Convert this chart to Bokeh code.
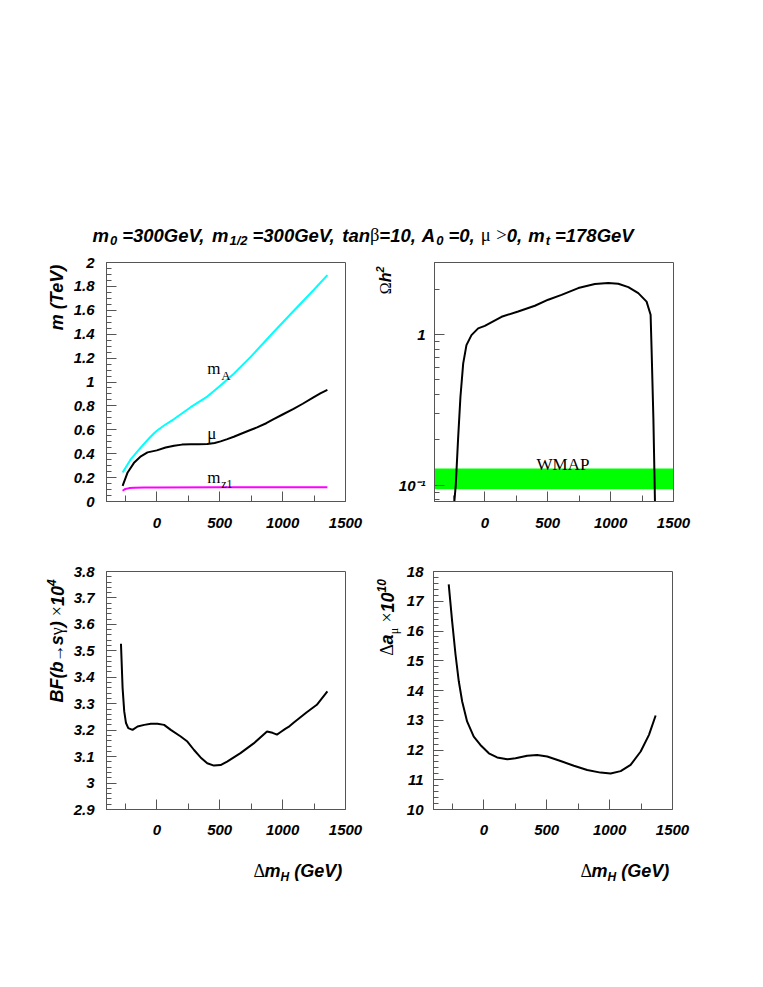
import math
from bokeh.plotting import figure
from bokeh.models import Range1d, FixedTicker, Label, BoxAnnotation
from bokeh.layouts import column, row
from bokeh.embed import file_html
from bokeh.resources import INLINE

# ---------------- data ----------------
# top-left: masses (TeV) vs Delta m_H (GeV)
ma_x = [-272, -206, -127, -61, -30, 0, 60, 137, 269, 401, 506, 612, 744, 929, 1087, 1245, 1356]
ma_y = [0.243, 0.355, 0.453, 0.529, 0.563, 0.592, 0.638, 0.69, 0.789, 0.878, 0.97, 1.069, 1.208, 1.418, 1.594, 1.768, 1.894]
mu_x = [-272, -232, -179, -127, -74, 0, 70, 137, 200, 269, 330, 401, 460, 507, 560, 612, 665, 744, 797, 870, 929, 1000, 1087, 1160, 1245, 1300, 1356]
mu_y = [0.131, 0.243, 0.327, 0.378, 0.411, 0.428, 0.452, 0.467, 0.476, 0.479, 0.479, 0.482, 0.49, 0.503, 0.522, 0.542, 0.565, 0.598, 0.62, 0.655, 0.69, 0.728, 0.775, 0.818, 0.871, 0.905, 0.934]
mz1_x = [-272, -250, -220, -180, -100, 0, 500, 1000, 1356]
mz1_y = [0.09, 0.105, 0.112, 0.115, 0.117, 0.118, 0.119, 0.12, 0.12]

# top-right: relic density
oh2_x = [-244, -231, -212, -194, -172, -146, -106, -53, 0, 133, 265, 398, 504, 610, 743, 875, 981, 1061, 1141, 1220, 1286, 1318, 1326, 1340, 1353]
oh2_y = [0.075, 0.1, 0.207, 0.383, 0.64, 0.85, 0.99, 1.097, 1.14, 1.31, 1.42, 1.55, 1.70, 1.83, 2.03, 2.16, 2.19, 2.17, 2.06, 1.88, 1.65, 1.35, 0.786, 0.28, 0.075]
wmap_lo = 0.094
wmap_hi = 0.129

# bottom-left: BF(b -> s gamma) x 1e4
bsg_x = [-285, -272, -259, -245, -227, -193, -153, -100, -47, 5, 58, 111, 190, 243, 296, 348, 401, 454, 507, 559, 665, 770, 876, 920, 955, 985, 1021, 1047, 1087, 1192, 1272, 1356]
bsg_y = [3.527, 3.359, 3.271, 3.227, 3.208, 3.201, 3.214, 3.220, 3.224, 3.224, 3.220, 3.201, 3.176, 3.157, 3.125, 3.097, 3.075, 3.066, 3.068, 3.081, 3.113, 3.150, 3.195, 3.190, 3.183, 3.193, 3.205, 3.212, 3.228, 3.268, 3.296, 3.347]

# bottom-right: Delta a_mu x 1e10
amu_x = [-279, -252, -225, -199, -172, -133, -80, -27, 40, 106, 186, 252, 345, 424, 504, 610, 716, 822, 928, 1008, 1088, 1167, 1247, 1313, 1366]
amu_y = [17.57, 16.33, 15.21, 14.31, 13.63, 12.96, 12.45, 12.17, 11.89, 11.75, 11.69, 11.72, 11.81, 11.83, 11.78, 11.63, 11.47, 11.33, 11.24, 11.21, 11.29, 11.50, 11.95, 12.51, 13.16]

# ticks
x_ticks = [0, 500, 1000, 1500]
x_minor = [-250, 250, 750, 1250]
m_ticks = [0, 0.2, 0.4, 0.6, 0.8, 1, 1.2, 1.4, 1.6, 1.8, 2]
m_labels = ["0", "0.2", "0.4", "0.6", "0.8", "1", "1.2", "1.4", "1.6", "1.8", "2"]
oh2_ticks = [0.1, 1]
oh2_labels = ["10\u207b\u00b9", "1"]
oh2_minor = [0.08, 0.09, 0.2, 0.3, 0.4, 0.5, 0.6, 0.7, 0.8, 0.9, 2, 3]
bsg_ticks = [2.9, 3.0, 3.1, 3.2, 3.3, 3.4, 3.5, 3.6, 3.7, 3.8]
bsg_labels = ["2.9", "3", "3.1", "3.2", "3.3", "3.4", "3.5", "3.6", "3.7", "3.8"]
amu_ticks = [10, 11, 12, 13, 14, 15, 16, 17, 18]
amu_labels = ["10", "11", "12", "13", "14", "15", "16", "17", "18"]

SANS = "Liberation Sans"
SERIF = "Liberation Serif"
BI = "bold italic"
NORM = "normal"
AXC = "#555555"
MID = 0.35  # distance (in em) from alphabetic baseline to the em-box middle

SANS_W = {' ': .278, '(': .333, ')': .333, ',': .278, '/': .278, '=': .584, '>': .584, '-': .333,
          '.': .278, 'A': .722, 'B': .722, 'F': .611, 'G': .778, 'H': .722, 'T': .611, 'V': .667,
          'a': .556, 'b': .611, 'e': .556, 'h': .611, 'm': .889, 'n': .611, 's': .556, 't': .333, 'z': .5}
SERIF_W = {'Ω': .768, 'Δ': .612, 'β': .5, 'μ': .576, 'γ': .45, '×': .564, '→': .9, '>': .564,
           ' ': .25, 'm': .778, 'A': .722, 'z': .444, '1': .5}


def text_w(s, font, size):
    tbl = SANS_W if font == SANS else SERIF_W
    return sum(tbl.get(c, .556) for c in s) * size


def lab(p, fl, fb, px, py, text, font=SANS, style=BI, size=18, rotated=False, align="left"):
    """Label whose alphabetic baseline passes through page position (px, py).
    (fl, fb) = page position of the target frame's left / bottom edge."""
    if rotated:
        cx, cy = px - MID * size, py
    else:
        cx, cy = px, py - MID * size
    p.add_layout(Label(x=cx - fl, y=fb - cy, x_units="screen", y_units="screen", text=text,
                       text_font=font, text_font_style=style, text_font_size=f"{size}px",
                       angle=math.pi / 2 if rotated else 0.0, text_align=align,
                       text_baseline="middle", text_color="black"))


def vseq(p, fl, fb, xb, ystart, pieces):
    """Rotated (bottom-to-top) text pieces: (text, font, style, size, dx, gap)."""
    y = ystart
    for text, font, style, size, dx, gap in pieces:
        y -= gap
        w = text_w(text, font, size)
        lab(p, fl, fb, xb + dx, y - w / 2, text, font, style, size, rotated=True, align="center")
        y -= w


def hseq(p, fl, fb, xstart, yb, pieces):
    """Horizontal text pieces: (text, font, style, size, dy, gap)."""
    x = xstart
    for text, font, style, size, dy, gap in pieces:
        x += gap
        lab(p, fl, fb, x, yb + dy, text, font, style, size)
        x += text_w(text, font, size)


def blank(w, h):
    b = figure(width=w, height=h, x_range=Range1d(0, 1), y_range=Range1d(0, 1),
               min_border=0, toolbar_location=None, output_backend="svg",
               x_axis_location=None, y_axis_location=None)
    b.outline_line_color = None
    b.grid.visible = False
    b.background_fill_color = "white"
    b.border_fill_color = "white"
    return b


def make_panel(yr, y_type, bl, br, bt, bb, fh, yt, ylab, ymin, y_standoff, x_standoff):
    p = figure(frame_width=239, frame_height=fh, x_range=Range1d(-400, 1500), y_range=yr,
               y_axis_type=y_type, output_backend="svg", toolbar_location=None,
               min_border_left=bl, min_border_right=br, min_border_top=bt, min_border_bottom=bb)
    p.grid.visible = False
    p.outline_line_color = AXC
    p.outline_line_width = 1
    p.background_fill_color = "white"
    p.border_fill_color = "white"
    xa = p.xaxis[0]
    xa.ticker = FixedTicker(ticks=x_ticks, minor_ticks=x_minor)
    xa.major_label_overrides = {t: str(t) for t in x_ticks}
    xa.major_tick_in = 10
    xa.major_tick_out = 0
    xa.minor_tick_in = 6
    xa.minor_tick_out = 0
    xa.major_label_standoff = x_standoff
    ya = p.yaxis[0]
    ya.ticker = FixedTicker(ticks=yt, minor_ticks=ymin)
    ya.major_label_overrides = dict(zip(yt, ylab))
    ya.major_tick_in = 10
    ya.major_tick_out = 0
    ya.minor_tick_in = 5
    ya.minor_tick_out = 0
    ya.major_label_standoff = y_standoff
    for ax in (xa, ya):
        ax.axis_line_color = AXC
        ax.major_tick_line_color = AXC
        ax.minor_tick_line_color = AXC
        ax.major_label_text_font = SANS
        ax.major_label_text_font_style = BI
        ax.major_label_text_font_size = "15px"
        ax.major_label_text_color = "black"
    return p


# page layout (page pixels, from the top-left of the page)
ROW1_TOP, ROW1_BOT = 250, 545
ROW2_TOP, ROW2_BOT = 545, 847
BOT_BOT = 912
# strips in a row get their frames aligned with the panels' frames
F1_BOT = 501
F2_BOT = 809

# ---------------- title strip ----------------
pt = blank(755, ROW1_TOP)
TS, SS = 18.5, 13
hseq(pt, 0, ROW1_TOP, 92, 241, [
    ("m", SANS, BI, TS, 0, 0), ("0", SANS, BI, SS, 4, 1), ("=300GeV,", SANS, BI, TS, 0, 5),
    ("m", SANS, BI, TS, 0, 6), ("1/2", SANS, BI, SS, 4, 1), ("=300GeV,", SANS, BI, TS, 0, 5),
    ("tan", SANS, BI, TS, 0, 6), ("β", SERIF, NORM, TS, 0, 0), ("=10,", SANS, BI, TS, 0, 0),
    ("A", SANS, BI, TS, 0, 6), ("0", SANS, BI, SS, 4, 1), ("=0,", SANS, BI, TS, 0, 5),
    ("μ", SERIF, NORM, TS, 0, 6), (">", SERIF, NORM, TS, 0, 5), ("0,", SANS, BI, TS, 0, 0),
    ("m", SANS, BI, TS, 0, 6), ("t", SANS, BI, SS, 4, 1), ("=178GeV", SANS, BI, TS, 0, 5),
])

# ---------------- row 1 ----------------
a1 = blank(70, ROW1_BOT - ROW1_TOP)
p1 = make_panel(Range1d(0, 2), "linear", 36, 20, 12, 44, 239, m_ticks, m_labels,
                [i * 0.05 for i in range(41) if i % 4], 12, 16)
p1.line(ma_x, ma_y, line_color="#00ffff", line_width=2)
p1.line(mu_x, mu_y, line_color="black", line_width=2)
p1.line(mz1_x, mz1_y, line_color="#ff00ff", line_width=2)
for x, y, t, sz, dx, dy in [(401, 1.11, "m", 17, 0, 0), (401, 1.11, "A", 13, 14, -7),
                            (401, 0.57, "μ", 17, 0, 0),
                            (401, 0.20, "m", 17, 0, 0), (401, 0.20, "z1", 12, 14, -6)]:
    p1.add_layout(Label(x=x, y=y, x_offset=dx, y_offset=dy, text=t, text_font=SERIF,
                        text_font_size=f"{sz}px", text_baseline="alphabetic", text_color="black"))
vseq(a1, 0, F1_BOT, 63, 264 + text_w("m (TeV)", SANS, 18), [("m (TeV)", SANS, BI, 18, 0, 0)])

b1 = blank(30, ROW1_BOT - ROW1_TOP)
vseq(b1, 365, F1_BOT, 391, 294, [("Ω", SERIF, NORM, 16, 0, 0), ("h", SANS, BI, 16, 0, 0),
                                 ("2", SANS, BI, 11, -8, 0)])

p2 = make_panel(Range1d(0.078, 3), "log", 38, 83, 12, 44, 239, oh2_ticks, oh2_labels,
                oh2_minor, 9, 16)
p2.add_layout(BoxAnnotation(bottom=wmap_lo, top=wmap_hi, fill_color="#00ff00", fill_alpha=1,
                            line_color=None, level="underlay"))
p2.line(oh2_x, oh2_y, line_color="black", line_width=2)
p2.add_layout(Label(x=411, y=0.137, text="WMAP", text_font=SERIF, text_font_size="17px",
                    text_baseline="alphabetic", text_color="black"))

# ---------------- row 2 ----------------
a2 = blank(70, ROW2_BOT - ROW2_TOP)
p3 = make_panel(Range1d(2.9, 3.8), "linear", 36, 20, 26, 38, 238, bsg_ticks, bsg_labels,
                [2.9 + i * 0.02 for i in range(46) if i % 5], 12, 15)
p3.line(bsg_x, bsg_y, line_color="black", line_width=2)
vseq(a2, 0, F2_BOT, 63, 702, [("BF(b", SANS, BI, 18, 0, 0), ("→", SERIF, NORM, 18, 0, 0),
                              ("s", SANS, BI, 18, 0, 0), ("γ", SERIF, NORM, 18, 0, 0),
                              (")", SANS, BI, 18, 0, 0), ("×", SERIF, NORM, 18, 0, 5),
                              ("10", SANS, BI, 18, 0, 0), ("4", SANS, BI, 12, -8, 0)])

b2 = blank(37, ROW2_BOT - ROW2_TOP)
vseq(b2, 365, F2_BOT, 393, 655, [("Δ", SERIF, NORM, 18, 0, 0), ("a", SANS, BI, 18, 0, 0),
                                 ("μ", SERIF, NORM, 12, 5, 0), ("×", SERIF, NORM, 18, 0, 5),
                                 ("10", SANS, BI, 18, 0, 0), ("10", SANS, BI, 12, -8, 0)])

p4 = make_panel(Range1d(10, 18), "linear", 31, 83, 26, 38, 238, amu_ticks, amu_labels,
                [10 + i * 0.2 for i in range(41) if i % 5], 10, 15)
p4.line(amu_x, amu_y, line_color="black", line_width=2)

# ---------------- bottom strip: x-axis titles ----------------
pb = blank(755, BOT_BOT - ROW2_BOT)
for xs in (253, 580):
    hseq(pb, 0, BOT_BOT, xs, 877, [("Δ", SERIF, NORM, 18, 0, 0), ("m", SANS, BI, 18, 0, 0),
                                   ("H", SANS, BI, 12, 4, 0), ("(GeV)", SANS, BI, 18, 0, 5)])

layout = column(pt, row(a1, p1, b1, p2), row(a2, p3, b2, p4), pb)
open("out.html", "w").write(file_html(layout, INLINE))
